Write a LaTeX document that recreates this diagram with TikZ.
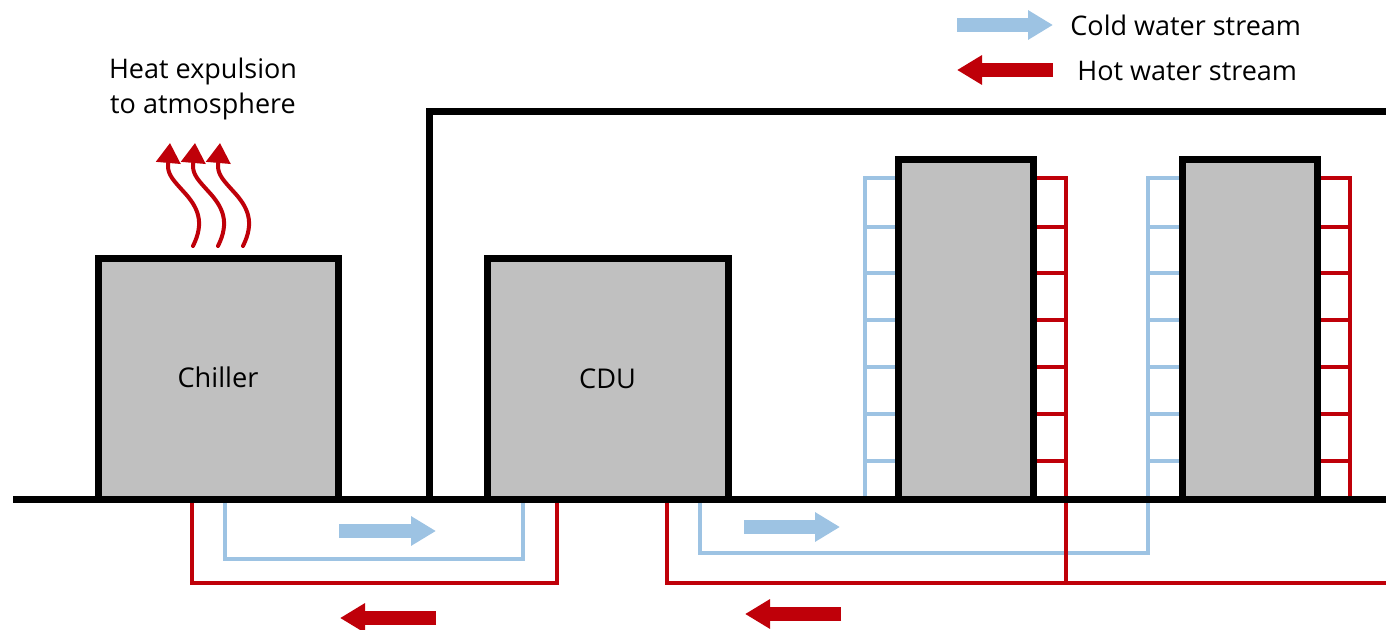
\documentclass[tikz,border=0pt]{standalone}
\usepackage{fontspec}
\usepackage{xcolor}
\usetikzlibrary{arrows.meta}
\setmainfont{Open Sans}
\definecolor{coldwater}{HTML}{9DC3E3}
\definecolor{hotwater}{HTML}{BF0009}
\definecolor{unitgray}{HTML}{C0C0C0}

\begin{document}
\begin{tikzpicture}[
  x=0.5pt, y=-0.5pt,
  unit/.style={draw=black, line width=3.5pt, fill=unitgray, outer sep=0pt,
    inner sep=0pt, align=center, font=\fontsize{13.6}{17}\selectfont},
  lbl/.style={inner sep=0pt, align=center, font=\fontsize{13.5}{17.5}\selectfont},
  frame/.style={draw=black, line width=3.5pt},
  cold/.style={draw=coldwater, line width=2pt},
  hot/.style={draw=hotwater, line width=2pt},
  coldarr/.style={-{Triangle[length=12.5pt, width=14pt]}, draw=coldwater, line width=7pt},
  hotarr/.style={-{Triangle[length=12.5pt, width=14pt]}, draw=hotwater, line width=7pt},
  heat/.style={-{Triangle[length=10pt, width=12pt]}, draw=hotwater, line width=2pt, line cap=round}
]
\useasboundingbox (0,0) rectangle (1386,630);
% pipe ends on the floor line
\coordinate (chhot) at (192,499);
\coordinate (chcold) at (225,499);
\coordinate (cducold) at (523,499);
\coordinate (cduhot) at (557,499);
\coordinate (cdufeed) at (700,499);
\coordinate (cduret) at (667,499);
\coordinate (r1cold) at (865,499);
\coordinate (r1hot) at (1066,499);
\coordinate (r2cold) at (1148,499);
\coordinate (r2hot) at (1350,499);
% rack manifolds
\foreach \rack/\cx/\hx in {a/865/1066, b/1148/1350} {
  \foreach \yy in {178,227,273,320,367,414,461} {
    \draw[cold] (\cx,\yy) -- (\cx+33,\yy);
    \draw[hot] (\hx-33,\yy) -- (\hx,\yy);
  }
}
\draw[cold] (r1cold) -- (865,176);
\draw[cold] (r2cold) -- (1148,176);
\draw[hot] (r1hot) -- (1066,176);
\draw[hot] (r2hot) -- (1350,176);
% loops below the floor
\draw[cold] (chcold) |- (cducold |- 0,559) -- (cducold);
\draw[cold] (cdufeed) |- (r2cold |- 0,553) -- (r2cold);
\draw[hot] (chhot) |- (cduhot |- 0,583) -- (cduhot);
\draw[hot] (cduret) |- (1386,583);
\draw[hot] (r1hot) -- (r1hot |- 0,583);
% floor and building
\coordinate (floorl) at (13,499);
\coordinate (floorr) at (1386,499);
\coordinate (roofr) at (1386,112);
\draw[frame] (floorl) -- (floorr);
\draw[frame] (429,499) |- (roofr);
% units
\node[unit, minimum width=120pt, minimum height=120pt] (chiller) at (218,379) {\raisebox{2pt}{Chiller}};
\node[unit, minimum width=120.5pt, minimum height=120pt] (cdu) at (607.5,379) {CDU};
\node[unit, minimum width=67.5pt, minimum height=169.5pt] (racka) at (965.5,329.5) {};
\node[unit, minimum width=67.5pt, minimum height=169.5pt] (rackb) at (1249.5,329.5) {};
% heat to atmosphere
\foreach \dx in {0,25,50} {
  \draw[heat] (193+\dx,246) .. controls (205+\dx,222) and (198+\dx,207) .. (183+\dx,191)
    .. controls (174+\dx,181) and (168+\dx,175) .. (168+\dx,166) -- (170+\dx,143);
}
\node[lbl] (heatlabel) at (203,89) {Heat expulsion\\to atmosphere};
% flow arrows
\foreach \name/\xa/\xb/\yy in {p/339/436/531, q/744/840/527, r/957/1053/25} {
  \coordinate (cold\name a) at (\xa,\yy);
  \coordinate (cold\name b) at (\xb,\yy);
  \draw[coldarr] (cold\name a) -- (cold\name b);
}
\foreach \name/\xa/\xb/\yy in {p/436/340/618, q/841/745/614, r/1053/957/70} {
  \coordinate (hot\name a) at (\xa,\yy);
  \coordinate (hot\name b) at (\xb,\yy);
  \draw[hotarr] (hot\name a) -- (hot\name b);
}
\node[lbl, anchor=west] (coldlabel) at (1070,25) {Cold water stream};
\node[lbl, anchor=west] (hotlabel) at (1077,71) {Hot water stream};
\end{tikzpicture}
\end{document}
